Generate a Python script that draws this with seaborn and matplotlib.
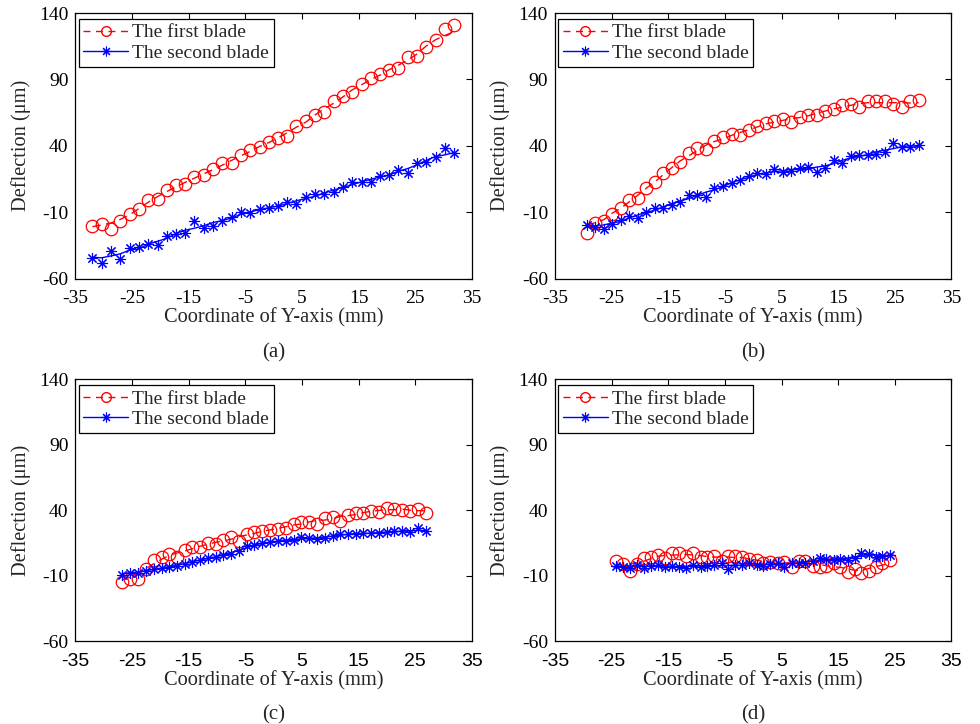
import numpy as np
import pandas as pd
import matplotlib
matplotlib.use("Agg")
import matplotlib.pyplot as plt
import seaborn as sns
from matplotlib.lines import Line2D

# --- dados (deflexão em µm vs coordenada Y em mm) ---
x_a = [-32.0, -30.4, -28.7, -27.1, -25.4, -23.8, -22.2, -20.5, -18.9, -17.3,
       -15.6, -14.0, -12.3, -10.7, -9.1, -7.4, -5.8, -4.2, -2.5, -0.9,
       0.8, 2.4, 4.0, 5.7, 7.3, 8.9, 10.6, 12.2, 13.8, 15.5,
       17.1, 18.8, 20.4, 22.0, 23.7, 25.3, 26.9, 28.6, 30.2, 31.9]
first_a = [-20.5, -19.2, -23.0, -16.4, -11.4, -7.6, -1.1, 0.1, 6.7, 10.4,
           11.2, 16.2, 18.2, 22.2, 26.8, 26.8, 32.8, 36.8, 39.3, 42.6,
           45.8, 47.3, 54.9, 58.9, 63.2, 65.2, 74.0, 77.7, 80.5, 86.3,
           91.3, 94.0, 96.8, 98.3, 106.6, 107.6, 114.1, 119.4, 127.7, 131.0]
second_a = [-44.3, -48.6, -39.0, -45.6, -37.3, -36.5, -34.3, -34.8, -27.7, -26.5,
            -25.5, -16.4, -21.7, -20.5, -16.4, -13.9, -9.7, -10.9, -7.6, -7.1,
            -5.4, -2.6, -4.1, 1.6, 3.4, 3.4, 5.4, 8.9, 12.4, 12.9,
            12.9, 17.5, 18.0, 21.7, 19.7, 27.3, 27.8, 31.3, 38.6, 34.8]

x_b = [-29.4, -27.9, -26.4, -24.9, -23.4, -21.9, -20.4, -18.9, -17.4, -15.9,
       -14.4, -12.9, -11.4, -9.9, -8.4, -6.9, -5.4, -3.8, -2.3, -0.8,
       0.7, 2.2, 3.7, 5.2, 6.7, 8.2, 9.7, 11.2, 12.7, 14.2,
       15.7, 17.2, 18.7, 20.2, 21.7, 23.2, 24.7, 26.2, 27.7, 29.2]
first_b = [-25.5, -17.9, -16.4, -11.7, -7.1, -0.9, 0.6, 7.9, 12.9, 19.2,
           23.0, 27.5, 34.8, 38.6, 37.8, 43.8, 46.8, 48.8, 48.1, 51.9,
           54.9, 56.9, 58.9, 59.9, 58.1, 61.9, 63.2, 63.2, 66.4, 67.4,
           70.7, 71.2, 69.4, 73.7, 74.0, 74.0, 71.4, 68.9, 74.0, 74.5]
second_b = [-19.7, -21.0, -22.5, -18.9, -15.9, -12.9, -14.7, -9.9, -7.1, -6.6,
            -4.6, -2.1, 2.9, 2.9, 1.6, 7.9, 9.9, 11.7, 14.2, 17.2,
            19.2, 19.0, 22.5, 20.5, 21.0, 23.0, 24.2, 20.5, 23.0, 29.3,
            27.3, 32.3, 33.0, 32.8, 33.8, 35.5, 42.3, 38.8, 38.8, 40.6]

x_c = [-26.7, -25.3, -24.0, -22.6, -21.2, -19.8, -18.5, -17.1, -15.7, -14.4,
       -13.0, -11.6, -10.2, -8.9, -7.5, -6.1, -4.7, -3.4, -2.0, -0.6,
       0.7, 2.1, 3.5, 4.9, 6.2, 7.6, 9.0, 10.4, 11.7, 13.1,
       14.5, 15.8, 17.2, 18.6, 20.0, 21.3, 22.7, 24.1, 25.4, 26.8]
first_c = [-14.3, -12.3, -12.3, -4.7, 2.2, 4.8, 6.5, 4.8, 9.8, 11.9,
           12.4, 14.9, 14.4, 17.5, 19.5, 17.0, 22.1, 23.8, 24.6, 24.9,
           25.6, 26.9, 29.4, 31.0, 31.5, 29.7, 34.5, 35.3, 32.2, 36.6,
           38.3, 37.8, 39.6, 39.1, 42.2, 41.4, 40.4, 39.9, 41.4, 37.8]
second_c = [-9.2, -7.5, -7.5, -6.0, -4.9, -4.1, -2.9, -2.1, -0.8, 0.9,
            2.2, 3.5, 4.8, 6.0, 6.8, 9.3, 12.9, 13.7, 15.4, 16.2,
            17.0, 16.8, 17.5, 19.5, 18.8, 18.2, 18.8, 20.5, 22.1, 22.1,
            21.8, 22.6, 23.1, 22.6, 23.3, 24.4, 24.4, 23.3, 26.4, 24.6]

x_d = [-24.2, -23.0, -21.7, -20.5, -19.2, -18.0, -16.8, -15.5, -14.3, -13.1,
       -11.8, -10.6, -9.3, -8.1, -6.9, -5.6, -4.4, -3.2, -1.9, -0.7,
       0.6, 1.8, 3.0, 4.3, 5.5, 6.8, 8.0, 9.2, 10.5, 11.7,
       12.9, 14.2, 15.4, 16.7, 17.9, 19.1, 20.4, 21.6, 22.8, 24.1]
first_d = [1.4, -0.8, -6.2, -1.1, 3.5, 4.8, 6.0, 3.5, 7.3, 7.3,
           5.5, 7.3, 4.8, 4.8, 5.3, 1.7, 5.3, 5.5, 4.8, 2.7,
           2.2, -0.3, 0.9, 0.2, 0.4, -3.4, 1.4, 1.7, -2.4, -2.9,
           -2.4, 0.2, -3.4, -6.7, -4.9, -7.5, -5.9, -3.4, 0.2, 2.2]
second_d = [-2.1, -3.0, -4.1, -1.6, -3.6, -2.4, -1.6, -3.4, -2.1, -2.9,
            -3.6, -1.6, -2.9, -2.4, -1.6, -0.3, -4.9, -1.6, -1.6, -0.3,
            -1.6, -2.1, -0.8, -0.3, -2.9, -0.3, -0.3, 0.2, 1.7, 3.5,
            2.7, 2.2, 3.0, 2.2, 3.5, 7.8, 6.8, 4.8, 5.3, 6.0]

panels = [("(a)", x_a, first_a, second_a),
          ("(b)", x_b, first_b, second_b),
          ("(c)", x_c, first_c, second_c),
          ("(d)", x_d, first_d, second_d)]

x_ticks = [-35, -25, -15, -5, 5, 15, 25, 35]
y_ticks = [-60, -10, 40, 90, 140]
labels = ["The first blade", "The second blade"]

RED = "#ff0000"
BLUE = "#0000ff"
ASTERISK = (8, 2, 0)
FS = 14
FS_LABEL = 14.7

sns.set_theme(style="white")
plt.rcParams['font.family'] = ['Liberation Serif', 'DejaVu Serif']

fig = plt.figure(figsize=(9.8, 7.24), dpi=100)
positions = [[0.0770, 0.6153, 0.4046, 0.3667],
             [0.5663, 0.6153, 0.4046, 0.3667],
             [0.0770, 0.1140, 0.4046, 0.3619],
             [0.5663, 0.1140, 0.4046, 0.3619]]

for i, (tag, xs, first, second) in enumerate(panels):
    ax = fig.add_axes(positions[i])
    df = pd.DataFrame({"x": xs, "first": first, "second": second})
    # linha suavizada (média móvel) por baixo dos marcadores
    df["first_s"] = df["first"].rolling(5, center=True, min_periods=1).mean()
    df["second_s"] = df["second"].rolling(5, center=True, min_periods=1).mean()

    sns.lineplot(data=df, x="x", y="first_s", ax=ax, color=RED, lw=1.0,
                 linestyle=(0, (6, 4)), sort=False)
    sns.lineplot(data=df, x="x", y="second_s", ax=ax, color=BLUE, lw=1.0,
                 sort=False)
    ax.plot(df["x"], df["first"], ls="none", marker="o", ms=9, mfc="none",
            mec=RED, mew=0.9)
    ax.plot(df["x"], df["second"], ls="none", marker=ASTERISK, ms=8,
            mec=BLUE, mew=0.8)

    ax.set_xlim(-35, 35)
    ax.set_ylim(-60, 140)
    ax.set_xticks(x_ticks)
    ax.set_yticks(y_ticks)
    ax.set_xticklabels([str(t) for t in x_ticks])
    ax.set_yticklabels([str(t) for t in y_ticks])
    ax.tick_params(direction="in", top=True, right=True, length=4, width=0.8,
                   colors="black", labelsize=FS)
    ax.tick_params(axis="x", pad=8)
    ax.tick_params(axis="y", pad=5)
    if i >= 2:
        for lab in ax.get_xticklabels():
            lab.set_family(['Liberation Sans', 'DejaVu Sans'])
    for s in ax.spines.values():
        s.set_color("black")
        s.set_linewidth(0.9)

    ax.set_xlabel("Coordinate of Y-axis (mm)", fontsize=FS_LABEL, labelpad=1)
    ax.set_ylabel("Deflection (\u03bcm)", fontsize=FS_LABEL, labelpad=6)
    ax.text(0.5, -0.28, tag, transform=ax.transAxes, ha="center",
            va="center", fontsize=15)

    handles = [Line2D([], [], color=RED, lw=1.0, linestyle=(0, (5, 4)),
                      marker="o", ms=7, mfc="none", mec=RED),
               Line2D([], [], color=BLUE, lw=1.0, marker=ASTERISK, ms=7,
                      mec=BLUE, mew=0.8)]
    leg = ax.legend(handles, labels, loc="upper left",
                    bbox_to_anchor=(0.008, 0.978), borderaxespad=0,
                    fontsize=FS, handlelength=2.3, handletextpad=0.2,
                    borderpad=0.25, labelspacing=0.15, fancybox=False,
                    framealpha=1, edgecolor="black")
    leg.get_frame().set_linewidth(0.9)

fig.savefig("out.png", dpi=100)
